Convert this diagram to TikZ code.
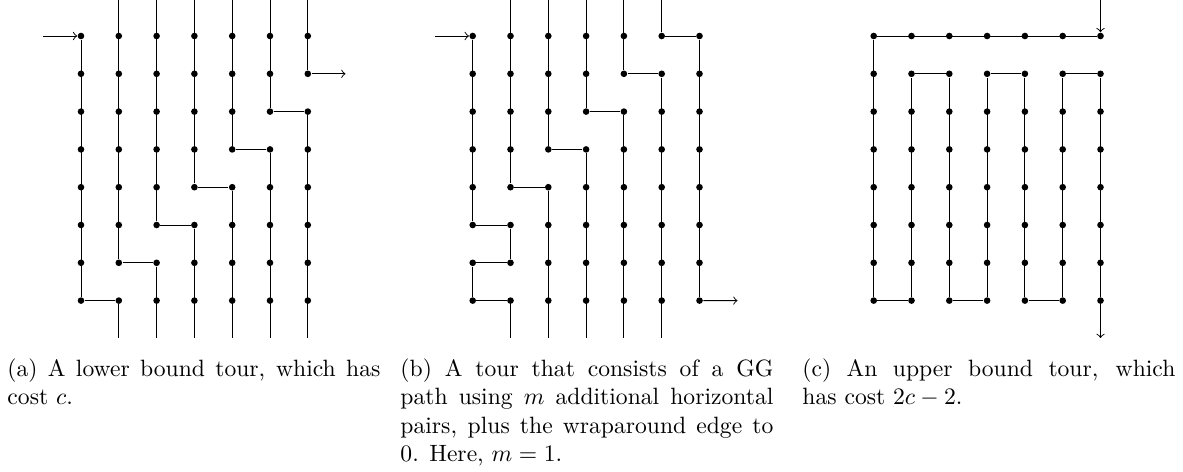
\documentclass[tikz,border=0pt]{standalone}
\usetikzlibrary{arrows}
\begin{document}
\begin{tikzpicture}[x=0.4237pt,y=-0.4237pt,
  dot/.style={circle,fill=black,inner sep=0pt,minimum size=2.8pt},
  trail/.style={draw=black,line width=0.4pt},
  tipline/.style={trail,->},
  captext/.style={inner sep=0pt,anchor=base west}]
\useasboundingbox (0,0) rectangle (1183,471);
% grid of dots for the three panels
\foreach \p/\x in {a/81,b/472.7,c/873.7}{
  \foreach \i in {0,...,6}{
    \foreach \j in {0,...,7}{
      \node[dot] (\p-\i-\j) at ({\x+37.8*\i},{36+37.8*\j}) {};
    }
    \coordinate (\p-\i-t) at ({\x+37.8*\i},0);
    \coordinate (\p-\i-b) at ({\x+37.8*\i},338);
  }
}
% (a)
\coordinate (a-in) at (43,36);
\coordinate (a-out) at (345.5,73.8);
\draw[tipline] (a-in) -- (a-0-0);
\draw[trail] (a-0-0) -- (a-0-7) -- (a-1-7) -- (a-1-b);
\draw[trail] (a-1-t) -- (a-1-6) -- (a-2-6) -- (a-2-b);
\draw[trail] (a-2-t) -- (a-2-5) -- (a-3-5) -- (a-3-b);
\draw[trail] (a-3-t) -- (a-3-4) -- (a-4-4) -- (a-4-b);
\draw[trail] (a-4-t) -- (a-4-3) -- (a-5-3) -- (a-5-b);
\draw[trail] (a-5-t) -- (a-5-2) -- (a-6-2) -- (a-6-b);
\draw[trail] (a-6-t) -- (a-6-1);
\draw[tipline] (a-6-1) -- (a-out);
% (b)
\coordinate (b-in) at (434.9,36);
\coordinate (b-out) at (737.5,300.6);
\draw[tipline] (b-in) -- (b-0-0);
\draw[trail] (b-0-0) -- (b-0-5) -- (b-1-5) -- (b-1-6) -- (b-0-6) -- (b-0-7) -- (b-1-7) -- (b-1-b);
\draw[trail] (b-1-t) -- (b-1-4) -- (b-2-4) -- (b-2-b);
\draw[trail] (b-2-t) -- (b-2-3) -- (b-3-3) -- (b-3-b);
\draw[trail] (b-3-t) -- (b-3-2) -- (b-4-2) -- (b-4-b);
\draw[trail] (b-4-t) -- (b-4-1) -- (b-5-1) -- (b-5-b);
\draw[trail] (b-5-t) -- (b-5-0) -- (b-6-0) -- (b-6-7);
\draw[tipline] (b-6-7) -- (b-out);
% (c)
\draw[tipline] (c-6-t) -- (c-6-0);
\draw[trail] (c-6-0) -- (c-0-0) -- (c-0-7) -- (c-1-7) -- (c-1-1) -- (c-2-1) -- (c-2-7)
  -- (c-3-7) -- (c-3-1) -- (c-4-1) -- (c-4-7) -- (c-5-7) -- (c-5-1) -- (c-6-1) -- (c-6-7);
\draw[tipline] (c-6-7) -- (c-6-b);
% captions
\node[captext] (capa) at (7,376.5) {\parbox[t]{158pt}{(a) A lower bound tour, which has cost $c$.}};
\node[captext] (capb) at (400,376.5) {\parbox[t]{158pt}{(b) A tour that consists of a GG path using $m$ additional horizontal pairs, plus the wraparound edge to 0. Here, $m=1$.}};
\node[captext] (capc) at (802,376.5) {\parbox[t]{158pt}{(c) An upper bound tour, which\linebreak has cost $2c-2$.}};
\end{tikzpicture}
\end{document}
